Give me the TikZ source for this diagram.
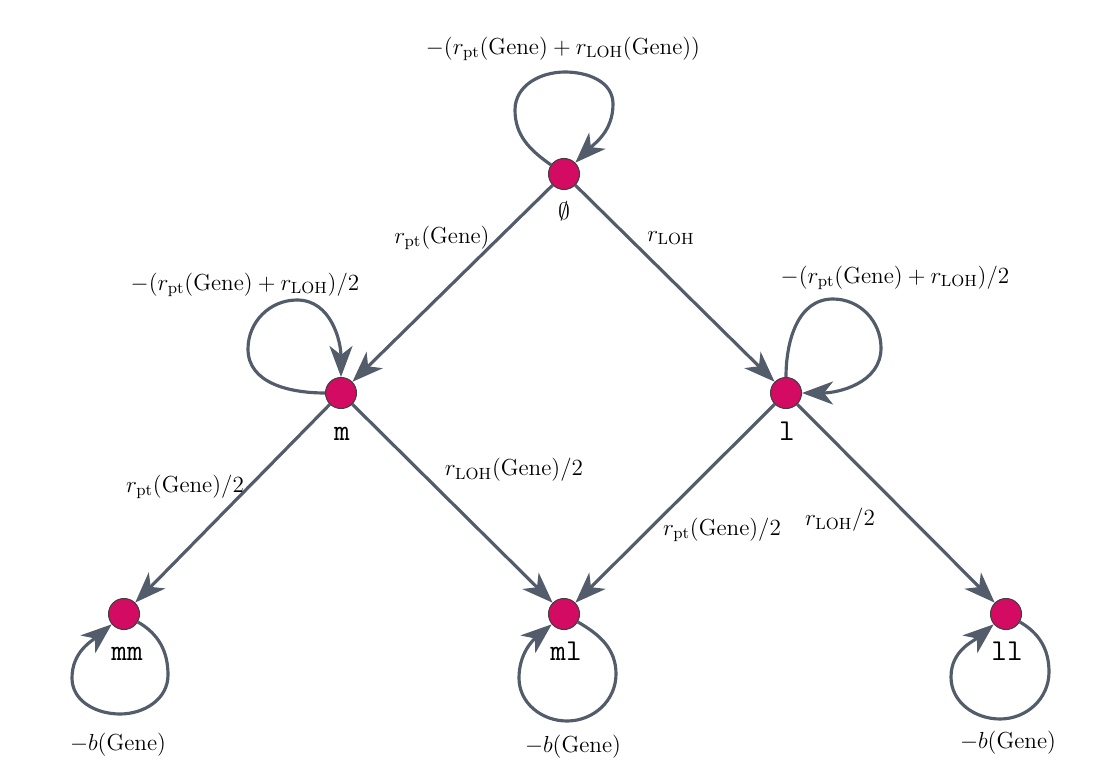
\RequirePackage{fix-cm}
\documentclass[tikz,border=0pt]{standalone}
\usetikzlibrary{arrows.meta}
\definecolor{nodefill}{HTML}{D30B62}
\definecolor{edgecol}{HTML}{535C6A}
\begin{document}
\begin{tikzpicture}[x=0.02cm,y=-0.02cm,
  state/.style={circle,fill=nodefill,draw=black!75,line width=0.6pt,minimum size=0.62cm,inner sep=0pt},
  edge/.style={draw=edgecol,line width=1.8pt,-{Stealth[length=6.2mm,width=4.6mm,inset=1.8mm]}},
  lbl/.style={font=\fontsize{13.2}{16}\selectfont,inner sep=1pt},
  nlbl/.style={font=\LARGE\ttfamily,inner sep=0pt,anchor=base}]
\useasboundingbox (0,0) rectangle (1096,784);
% states
\node[state] (e) at (564,174) {};
\node[state] (m) at (341,393) {};
\node[state] (l) at (786,393) {};
\node[state] (mm) at (124,614) {};
\node[state] (ml) at (564,614) {};
\node[state] (ll) at (1006,614) {};
% state labels
\node[lbl,font=\fontsize{13.5}{16}\selectfont] (te) at (564,211) {$\emptyset$};
\node[nlbl] (tm) at (342,440) {m};
\node[nlbl] (tl) at (787,440) {l};
\node[nlbl] (tmm) at (127,660) {mm};
\node[nlbl] (tml) at (566,660) {ml};
\node[nlbl] (tll) at (1007,660) {ll};
% loop way points
\coordinate (eL) at (515,110);
\coordinate (eT) at (565,72);
\coordinate (eR) at (613,104);
\coordinate (mL) at (248,349);
\coordinate (mT) at (297,300);
\coordinate (lT) at (833,299);
\coordinate (lR) at (881,348);
\coordinate (mmR) at (168,675);
\coordinate (mmB) at (120,714);
\coordinate (mmL) at (72,678);
\coordinate (mlR) at (616,674);
\coordinate (mlB) at (567,721);
\coordinate (mlL) at (519,678);
\coordinate (llR) at (1049,672);
\coordinate (llB) at (1000,719);
\coordinate (llL) at (951,677);
% transitions
\draw[edge] (e) -- (m);
\draw[edge] (e) -- (l);
\draw[edge] (m) -- (mm);
\draw[edge] (m) -- (ml);
\draw[edge] (l) -- (ml);
\draw[edge] (l) -- (ll);
% loops
\draw[edge] (e) to[out=145,in=-90] (eL) to[out=90,in=180] (eT) to[out=0,in=90] (eR) to[out=-90,in=45] (e);
\draw[edge] (m) to[out=180,in=-90] (mL) to[out=90,in=180] (mT) to[out=0,in=90] (m);
\draw[edge] (l) to[out=90,in=180] (lT) to[out=0,in=90] (lR) to[out=-90,in=0] (l);
\draw[edge] (mm) to[out=-30,in=90] (mmR) to[out=-90,in=0] (mmB) to[out=180,in=-90] (mmL) to[out=90,in=-140] (mm);
\draw[edge] (ml) to[out=-30,in=90] (mlR) to[out=-90,in=0] (mlB) to[out=180,in=-90] (mlL) to[out=90,in=-140] (ml);
\draw[edge] (ll) to[out=-30,in=90] (llR) to[out=-90,in=0] (llB) to[out=180,in=-90] (llL) to[out=90,in=-140] (ll);
% edge labels
\node[lbl] (le) at (563,49) {$-(r_{\mathrm{pt}}(\mathrm{Gene})+r_{\mathrm{LOH}}(\mathrm{Gene}))$};
\node[lbl] (lem) at (442,238) {$r_{\mathrm{pt}}(\mathrm{Gene})$};
\node[lbl] (lel) at (671,238) {$r_{\mathrm{LOH}}$};
\node[lbl] (lm) at (245,285) {$-(r_{\mathrm{pt}}(\mathrm{Gene})+r_{\mathrm{LOH}})/2$};
\node[lbl] (ll0) at (895,278) {$-(r_{\mathrm{pt}}(\mathrm{Gene})+r_{\mathrm{LOH}})/2$};
\node[lbl] (lmmm) at (185,487) {$r_{\mathrm{pt}}(\mathrm{Gene})/2$};
\node[lbl] (lmml) at (514,470) {$r_{\mathrm{LOH}}(\mathrm{Gene})/2$};
\node[lbl] (llml) at (722,530) {$r_{\mathrm{pt}}(\mathrm{Gene})/2$};
\node[lbl] (llll) at (840,520) {$r_{\mathrm{LOH}}/2$};
\node[lbl] (lmm) at (118,745) {$-b(\mathrm{Gene})$};
\node[lbl] (lml) at (573,747) {$-b(\mathrm{Gene})$};
\node[lbl] (lll) at (1008,743) {$-b(\mathrm{Gene})$};
\end{tikzpicture}
\end{document}
